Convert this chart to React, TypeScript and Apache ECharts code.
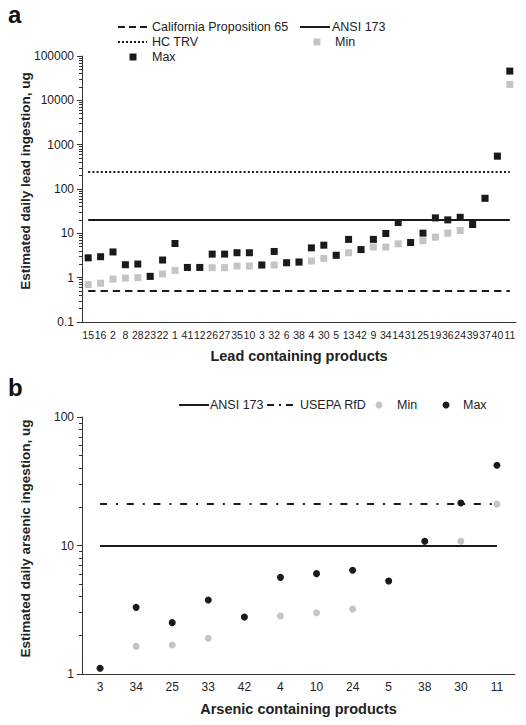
import React, { useEffect, useRef } from "react";
import * as echarts from "echarts";

// ---------- Data ----------
const leadProducts = ["15","16","2","8","28","23","22","1","41","12","26","27","35","10","3","32","6","38","4","30","5","13","42","9","34","14","31","25","19","36","24","39","37","40","11"];
const leadMax = [2.8,2.97,3.8,1.96,2.03,1.07,2.5,5.9,1.7,1.7,3.4,3.4,3.65,3.65,1.93,3.9,2.17,2.25,4.7,5.4,3.2,7.3,4.3,7.3,9.9,17.5,6.2,10.1,22.3,20.1,23,15.8,61.7,551,45700];
const leadMin = [0.7,0.75,0.93,0.98,1.0,1.07,1.21,1.46,1.7,1.7,1.68,1.68,1.83,1.83,1.93,1.93,2.17,2.25,2.37,2.72,3.2,3.65,4.3,4.9,4.9,5.8,6.2,6.8,8.2,10.1,11.6,15.8,61.7,551,22900];
const leadCalProp65 = 0.5;
const leadAnsi173 = 20;
const leadHcTrv = 250;

const arsenicProducts = ["3","34","25","33","42","4","10","24","5","38","30","11"];
const arsenicMax = [1.11,3.3,2.51,3.77,2.78,5.65,6.04,6.41,5.3,10.8,21.4,42.1];
const arsenicMin = [1.11,1.64,1.68,1.9,2.78,2.83,3.0,3.2,5.3,10.8,10.8,21.0];
const arsenicAnsi173 = 10;
const arsenicUsepaRfd = 21;

const leadTickLabels = ["0.1","1","10","100","1000","10000","100000"];
const arsenicTickLabels = ["1","10","100"];

// minor tick positions (2..9 within each decade), as log10 exponents
const minorExponents = (lo: number, hi: number) => {
  const out: number[] = [];
  for (let d = lo; d < hi; d *= 10) for (let k = 2; k <= 9; k++) out.push(Math.log10(d * k));
  return out;
};
const leadMinor = minorExponents(0.1, 100000);
const arsenicMinor = minorExponents(1, 100);

const FONT = "'Liberation Sans', Arial, Helvetica, sans-serif";
const INK = "#1a1a1a";
const GREY = "#c4c4c4";
const AXIS = "#333";
const TXT = "#222";

const fmt = (v: number) => (v < 1 ? v.toFixed(1) : String(Math.round(v)));

const refLine = (name: string, idx: number, cats: string[], value: number, type: any) => ({
  type: "line",
  name,
  xAxisIndex: idx,
  yAxisIndex: idx,
  data: [],
  silent: true,
  markLine: {
    silent: true,
    symbol: ["none", "none"],
    label: { show: false },
    lineStyle: { color: INK, width: 2, type, cap: "butt" },
    emphasis: { disabled: true },
    data: [[{ coord: [0, value] }, { coord: [cats.length - 1, value] }]],
  },
});

const text = (t: string, x: number, y: number, extra: any = {}) => ({
  type: "text",
  x,
  y,
  silent: true,
  style: {
    text: t,
    fill: TXT,
    font: `12.5px ${FONT}`,
    textAlign: "left",
    textVerticalAlign: "middle",
    verticalAlign: "middle",
    ...extra,
  },
});

const hline = (x1: number, x2: number, y: number, dash: any) => ({
  type: "line",
  silent: true,
  shape: { x1, y1: y, x2, y2: y },
  style: { stroke: INK, lineWidth: 2, lineDash: dash, lineCap: "butt" },
});

export default function App() {
  const ref = useRef<HTMLDivElement>(null);
  useEffect(() => {
    if (!ref.current) return;
    const chart = echarts.init(ref.current, undefined, { renderer: "svg" });
    const xAxisCommon = {
      type: "category",
      boundaryGap: true,
      axisLine: { onZero: false, lineStyle: { color: AXIS, width: 1 } },
      axisTick: { length: 3, lineStyle: { color: AXIS } },
      splitLine: { show: false },
      nameLocation: "middle",
      nameTextStyle: { fontWeight: "bold", fontSize: 14.5, color: TXT, fontFamily: FONT },
    };
    const yAxisCommon = {
      type: "log",
      logBase: 10,
      axisLine: { show: true, lineStyle: { color: AXIS, width: 1 } },
      axisTick: { show: true, length: 5, lineStyle: { color: AXIS } },
      splitLine: { show: false },
      axisLabel: { fontSize: 12, color: TXT, fontFamily: FONT, margin: 8, formatter: fmt },
    };
    // hidden linear axis in log10 space, used only to draw the minor ticks
    const minorAxis = (gridIndex: number, lo: number, hi: number, vals: number[]) => ({
      type: "value",
      gridIndex,
      position: "left",
      min: lo,
      max: hi,
      axisLine: { show: false, onZero: false },
      axisLabel: { show: false },
      splitLine: { show: false },
      axisTick: { show: true, length: 3, customValues: vals, lineStyle: { color: AXIS, width: 1 } },
    });
    const option: any = {
      animation: false,
      backgroundColor: "#ffffff",
      grid: [
        { left: 82, top: 56, width: 434, height: 266 },
        { left: 82, top: 417, width: 433, height: 257 },
      ],
      xAxis: [
        {
          ...xAxisCommon,
          gridIndex: 0,
          data: leadProducts,
          axisLabel: { interval: 0, fontSize: 10.5, color: TXT, fontFamily: FONT, margin: 7 },
          name: "Lead containing products",
          nameGap: 26,
        },
        {
          ...xAxisCommon,
          gridIndex: 1,
          data: arsenicProducts,
          axisLabel: { interval: 0, fontSize: 12, color: TXT, fontFamily: FONT, margin: 7 },
          name: "Arsenic containing products",
          nameGap: 27,
        },
      ],
      yAxis: [
        { ...yAxisCommon, gridIndex: 0, min: 0.1, max: 100000, splitNumber: leadTickLabels.length - 1 },
        { ...yAxisCommon, gridIndex: 1, min: 1, max: 100, splitNumber: arsenicTickLabels.length - 1 },
        minorAxis(0, -1, 5, leadMinor),
        minorAxis(1, 0, 2, arsenicMinor),
      ],
      series: [
        refLine("California Proposition 65", 0, leadProducts, leadCalProp65, [7.3, 5]),
        refLine("ANSI 173", 0, leadProducts, leadAnsi173, "solid"),
        refLine("HC TRV", 0, leadProducts, leadHcTrv, [2, 2.2]),
        {
          type: "scatter", name: "Min", xAxisIndex: 0, yAxisIndex: 0,
          symbol: "rect", symbolSize: 7, itemStyle: { color: GREY, opacity: 1 }, z: 3,
          data: leadMin,
        },
        {
          type: "scatter", name: "Max", xAxisIndex: 0, yAxisIndex: 0,
          symbol: "rect", symbolSize: 7, itemStyle: { color: INK, opacity: 1 }, z: 4,
          data: leadMax,
        },
        refLine("ANSI 173", 1, arsenicProducts, arsenicAnsi173, "solid"),
        refLine("USEPA RfD", 1, arsenicProducts, arsenicUsepaRfd, [7, 9, 2, 8.7]),
        {
          type: "scatter", name: "Min", xAxisIndex: 1, yAxisIndex: 1,
          symbol: "circle", symbolSize: 7, itemStyle: { color: GREY, opacity: 1 }, z: 3,
          data: arsenicMin,
        },
        {
          type: "scatter", name: "Max", xAxisIndex: 1, yAxisIndex: 1,
          symbol: "circle", symbolSize: 7, itemStyle: { color: INK, opacity: 1 }, z: 4,
          data: arsenicMax,
        },
      ],
      graphic: [
        text("a", 8, 14, { font: `bold 24px ${FONT}`, fill: "#111" }),
        text("b", 8, 387.5, { font: `bold 24px ${FONT}`, fill: "#111" }),
        {
          type: "text", x: 25, y: 181, rotation: Math.PI / 2, silent: true,
          style: {
            text: "Estimated daily lead ingestion, ug", fill: TXT,
            font: `bold 13.5px ${FONT}`, textAlign: "center",
            textVerticalAlign: "middle", verticalAlign: "middle",
          },
        },
        {
          type: "text", x: 25, y: 538.5, rotation: Math.PI / 2, silent: true,
          style: {
            text: "Estimated daily arsenic ingestion, ug", fill: TXT,
            font: `bold 13.5px ${FONT}`, textAlign: "center",
            textVerticalAlign: "middle", verticalAlign: "middle",
          },
        },
        hline(118, 147, 27, [7, 4]),
        text("California Proposition 65", 152, 27),
        hline(300, 330, 27, null),
        text("ANSI 173", 332, 27),
        hline(118, 147, 42, [2, 2]),
        text("HC TRV", 152, 42),
        { type: "rect", silent: true, shape: { x: 313.5, y: 38.5, width: 7, height: 7 }, style: { fill: GREY } },
        text("Min", 335, 42),
        { type: "rect", silent: true, shape: { x: 129.5, y: 53.5, width: 7, height: 7 }, style: { fill: INK } },
        text("Max", 152, 57),
        hline(179, 209, 405, null),
        text("ANSI 173", 210, 405),
        hline(267, 298, 405, [7, 5, 2, 5]),
        text("USEPA RfD", 300, 405),
        { type: "circle", silent: true, shape: { cx: 379, cy: 405, r: 3.5 }, style: { fill: GREY } },
        text("Min", 397, 405),
        { type: "circle", silent: true, shape: { cx: 446, cy: 405, r: 3.5 }, style: { fill: INK } },
        text("Max", 463, 405),
      ],
    };
    chart.setOption(option);
    return () => chart.dispose();
  }, []);
  return (
    <div
      ref={ref}
      style={{ position: "absolute", left: 0, top: 0, width: 526, height: 725, background: "#fff" }}
    />
  );
}
